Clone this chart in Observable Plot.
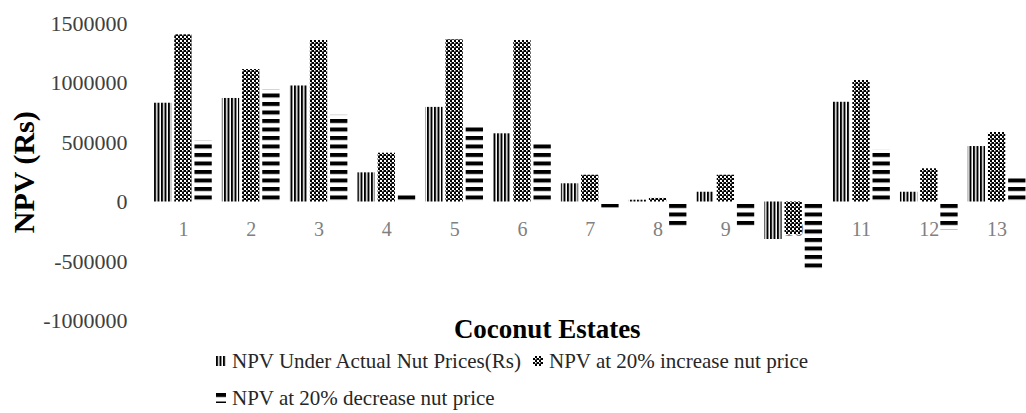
<!DOCTYPE html>
<html><head><meta charset="utf-8">
<script src="https://cdn.jsdelivr.net/npm/d3@7"></script>
<script src="https://cdn.jsdelivr.net/npm/@observablehq/plot@0.6"></script>
<style>
body{margin:0;background:#fff;font-family:"Liberation Serif",serif;}
#wrap{position:relative;width:1026px;height:413px;overflow:hidden;background:#fff;}
#legend{position:relative;width:1026px;height:68px;}
.li{position:absolute;display:flex;align-items:center;font-family:"Liberation Serif",serif;font-size:21px;line-height:24px;color:#262626;white-space:nowrap;}
.li svg{margin-right:6px;}
</style></head><body>
<svg width="0" height="0" style="position:absolute">
<defs>
<pattern id="pV" patternUnits="userSpaceOnUse" width="3.5" height="10"><rect width="3.5" height="10" fill="#fff"/><rect width="2" height="10" fill="#000"/></pattern>
<pattern id="pC" patternUnits="userSpaceOnUse" width="4" height="4"><rect width="4" height="4" fill="#000"/><rect width="2" height="2" fill="#fff"/><rect x="2" y="2" width="1.5" height="1.5" fill="#fff"/></pattern>
<pattern id="pH" patternUnits="userSpaceOnUse" width="10" height="8.5"><rect width="10" height="8.5" fill="#fff"/><rect width="10" height="4" fill="#000"/></pattern>
</defs></svg>
<div id="wrap"><div id="chart"></div><div id="legend"></div></div>
<script>
const estates = ["1","2","3","4","5","6","7","8","9","10","11","12","13"];
const seriesNames = ["NPV Under Actual Nut Prices(Rs)", "NPV at 20% increase nut price", "NPV at 20% decrease nut price"];
const actualValues = [830000, 870000, 975000, 245000, 795000, 573000, 153000, 15000, 82000, -315000, 838000, 82000, 466000];
const increaseValues = [1405000, 1113000, 1357000, 410000, 1363000, 1357000, 225000, 30000, 225000, -273000, 1021000, 279000, 584000];
const decreaseValues = [515000, 945000, 729000, 74000, 649000, 503000, -50000, -230000, -203000, -570000, 441000, -235000, 208000];
const yTicks = [-1000000, -500000, 0, 500000, 1000000, 1500000];
const patterns = ["url(#pV)", "url(#pC)", "url(#pH)"];

const seriesValues = [actualValues, increaseValues, decreaseValues];
const tables = seriesValues.map(vals => estates.map((e, i) => ({estate: e, value: vals[i]})));
const insets = [[5.05, 45.45], [25.25, 25.25], [45.45, 5.05]];

const chart = Plot.plot({
  width: 1026, height: 345,
  marginLeft: 149, marginRight: -4.5, marginTop: 23, marginBottom: 24.5,
  style: {fontFamily: '"Liberation Serif", serif', background: "#fff", overflow: "visible"},
  x: {domain: estates, padding: 0, round: false, axis: null},
  y: {domain: [-1000000, 1500000], axis: null},
  marks: [
    Plot.axisY(yTicks, {tickSize: 0, tickPadding: 22, tickFormat: d => String(d), fontSize: 22, color: "#404040", fill: "#404040", label: null}),
    Plot.text(estates, {x: d => d, y: () => 0, dy: 28, text: d => d, fontSize: 20, fill: "#808080"}),
    ...tables.map((t, k) => Plot.barY(t, {x: "estate", y: "value", fill: patterns[k], insetLeft: insets[k][0], insetRight: insets[k][1]})),
    Plot.text(["NPV (Rs)"], {frameAnchor: "left", textAnchor: "middle", lineAnchor: "middle", text: d => d, rotate: -90, dx: -125, fontSize: 30, fontWeight: "bold", fill: "#000"}),
    Plot.text(["Coconut Estates"], {frameAnchor: "bottom", textAnchor: "middle", lineAnchor: "middle", text: d => d, dx: -43, dy: 8.5, fontSize: 27, fontWeight: "bold", fill: "#000"})
  ]
});
document.getElementById("chart").appendChild(chart);

const legendPos = [[216, 4], [533, 4], [216, 41]];
const legend = document.getElementById("legend");
seriesNames.forEach((name, k) => {
  const item = document.createElement("div");
  item.className = "li";
  item.style.left = legendPos[k][0] + "px";
  item.style.top = legendPos[k][1] + "px";
  item.innerHTML = `<svg width="10" height="10"><rect width="10" height="10" fill="${patterns[k]}"/></svg><span>${name}</span>`;
  legend.appendChild(item);
});
</script>
</body></html>
